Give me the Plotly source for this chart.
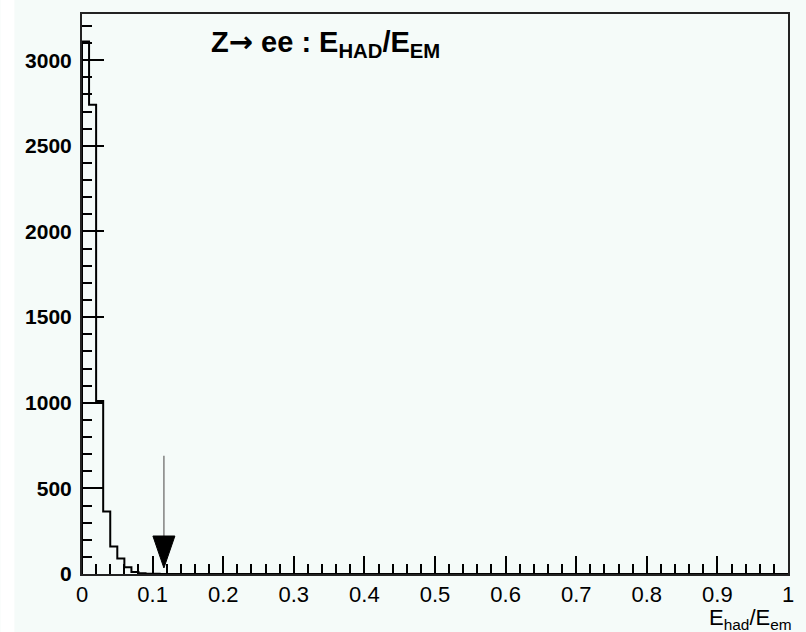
import plotly.graph_objects as go

# ---- data ----
bin_width = 0.01
bin_edges = [round(i * bin_width, 2) for i in range(101)]
counts = [3110, 2740, 1010, 365, 160, 90, 40, 12, 4, 2, 1] + [0] * 89
cut_value = 0.116
arrow_top = 690
arrow_tip = 35
y_max = 3270
title_text = ("<b>Z<span style=\"font-family:'DejaVu Sans'\">\u2192</span> ee : "
              "E<sub>HAD</sub>/E<sub>EM</sub></b>")
xtitle_text = "E<sub>had</sub>/E<sub>em</sub>"

BG = "#f5fbf9"
FONT = "Liberation Sans, Arial, sans-serif"

# step outline
xs = [bin_edges[0]] + bin_edges
ys = [0] + counts + [counts[-1]]

fig = go.Figure()
fig.add_trace(go.Scatter(x=xs, y=ys, mode="lines", line_shape="hv",
                         line=dict(color="black", width=2), hoverinfo="skip",
                         showlegend=False))

L, R, T, B = 82, 14, 13, 58
W, H = 806, 632
pw = W - L - R

fig.update_layout(
    width=W, height=H, autosize=False,
    margin=dict(l=L, r=R, t=T, b=B, pad=0),
    paper_bgcolor=BG, plot_bgcolor=BG,
    showlegend=False,
    xaxis=dict(range=[0, 1], dtick=0.1, tick0=0, ticks="inside", ticklen=18,
               tickwidth=1.5, tickcolor="black", showgrid=False, zeroline=False,
               showline=True, linecolor="#222", linewidth=2, mirror=True,
               tickfont=dict(family=FONT, size=22, color="black"),
               minor=dict(dtick=0.02, ticks="inside", ticklen=10, tickwidth=1.5,
                          tickcolor="black", showgrid=False)),
    yaxis=dict(range=[0, y_max], dtick=500, tick0=0, ticks="inside", ticklen=22,
               tickwidth=1.5, tickcolor="black", showgrid=False, zeroline=False,
               showline=True, linecolor="#222", linewidth=2, mirror=True,
               tickfont=dict(family=FONT, size=21, color="black", weight="bold"),
               ticklabelstandoff=4,
               minor=dict(dtick=100, ticks="inside", ticklen=10, tickwidth=1.5,
                          tickcolor="black", showgrid=False)),
)

# white strip at the far left
fig.add_shape(type="rect", xref="paper", yref="paper",
              x0=-L / pw, x1=-(L - 14) / pw, y0=-0.2, y1=1.1,
              fillcolor="white", line=dict(width=0), layer="below")

# arrow: gray stem + black head
fig.add_shape(type="line", xref="x", yref="y", x0=cut_value, x1=cut_value,
              y0=arrow_top, y1=arrow_tip + 100, line=dict(color="#808080", width=1.5))
fig.add_shape(type="path", xref="x", yref="y", xsizemode="pixel", ysizemode="pixel",
              xanchor=cut_value, yanchor=arrow_tip,
              path="M-11,32 L11,32 L0,0 Z", fillcolor="black", line=dict(color="black", width=1))

fig.add_annotation(text=title_text, xref="paper", yref="paper",
                   x=(210 - L) / pw, y=0.9465, xanchor="left", yanchor="middle",
                   showarrow=False, font=dict(family=FONT, size=29, color="black"))
fig.add_annotation(text=xtitle_text, xref="paper", yref="paper",
                   x=1.008, y=-0.08, xanchor="right", yanchor="middle",
                   showarrow=False, font=dict(family=FONT, size=22, color="black"))

fig.write_html("out.html")
